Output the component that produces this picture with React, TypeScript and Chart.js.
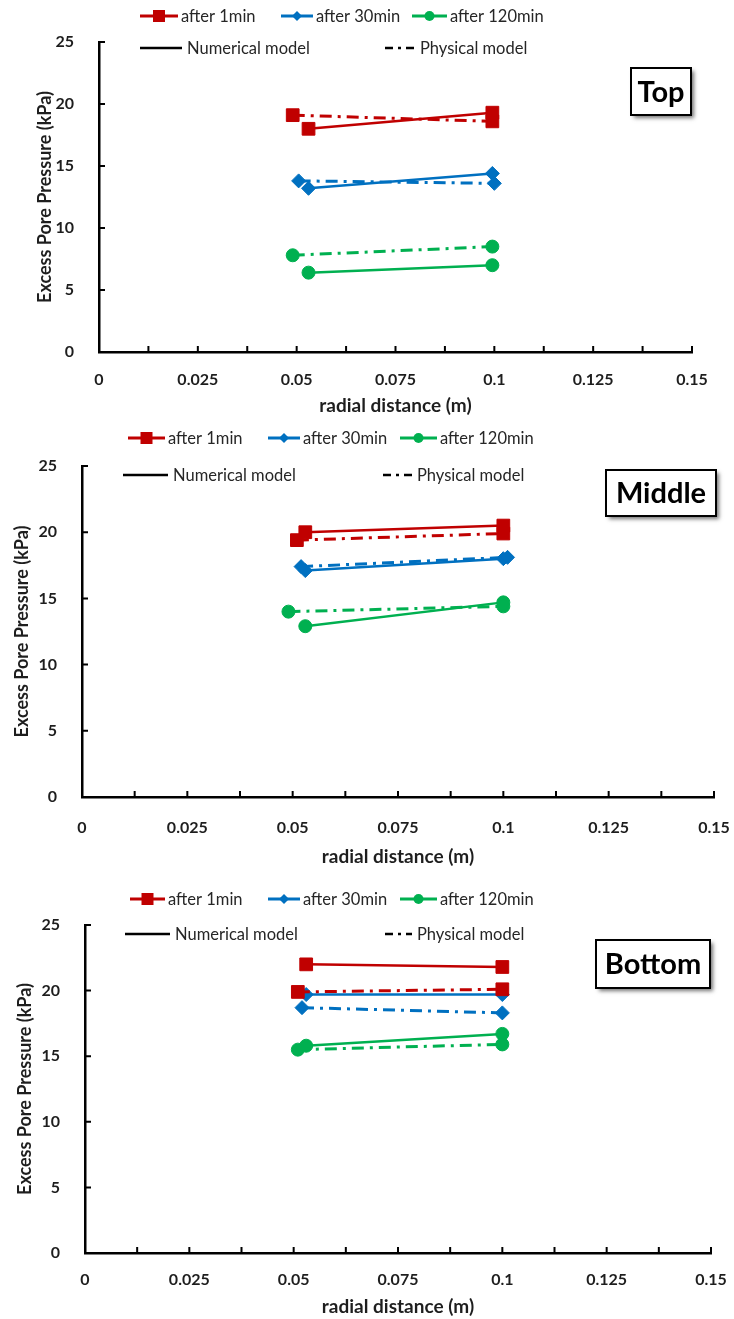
import React, { useEffect, useRef } from "react";
import { Chart, registerables } from "chart.js";

Chart.register(...registerables);

// ---------- labels ----------
const SERIES_NAMES = ["after 1min", "after 30min", "after 120min"];
const MODEL_NAMES = ["Numerical model", "Physical model"];
const PANEL_NAMES = ["Top", "Middle", "Bottom"];
const X_TICK_VALUES = [0, 0.025, 0.05, 0.075, 0.1, 0.125, 0.15];
const X_TICK_LABELS = ["0", "0.025", "0.05", "0.075", "0.1", "0.125", "0.15"];
const X_MINOR_STEP = 0.0125;
const Y_TICK_VALUES = [0, 5, 10, 15, 20, 25];
const Y_TICK_LABELS = ["0", "5", "10", "15", "20", "25"];
const X_TITLE = "radial distance (m)";
const Y_TITLE = "Excess Pore Pressure (kPa)";

// ---------- data: Top ----------
const TOP_NUM_X = [0.053, 0.0995];
const TOP_PHYS_X_1MIN = [0.049, 0.0995];
const TOP_PHYS_X_30MIN = [0.0505, 0.1];
const TOP_PHYS_X_120MIN = [0.049, 0.0995];
const TOP_NUM_1MIN = [18.0, 19.3];
const TOP_NUM_30MIN = [13.2, 14.4];
const TOP_NUM_120MIN = [6.4, 7.0];
const TOP_PHYS_1MIN = [19.1, 18.6];
const TOP_PHYS_30MIN = [13.8, 13.6];
const TOP_PHYS_120MIN = [7.8, 8.5];

// ---------- data: Middle ----------
const MID_NUM_X = [0.053, 0.1];
const MID_PHYS_X_1MIN = [0.051, 0.1];
const MID_PHYS_X_30MIN = [0.052, 0.101];
const MID_PHYS_X_120MIN = [0.049, 0.1];
const MID_NUM_1MIN = [20.0, 20.5];
const MID_NUM_30MIN = [17.1, 18.0];
const MID_NUM_120MIN = [12.9, 14.7];
const MID_PHYS_1MIN = [19.4, 19.9];
const MID_PHYS_30MIN = [17.4, 18.1];
const MID_PHYS_120MIN = [14.0, 14.4];

// ---------- data: Bottom ----------
const BOT_NUM_X = [0.053, 0.1];
const BOT_PHYS_X_1MIN = [0.051, 0.1];
const BOT_PHYS_X_30MIN = [0.052, 0.1];
const BOT_PHYS_X_120MIN = [0.051, 0.1];
const BOT_NUM_1MIN = [22.0, 21.8];
const BOT_NUM_30MIN = [19.7, 19.7];
const BOT_NUM_120MIN = [15.8, 16.7];
const BOT_PHYS_1MIN = [19.9, 20.1];
const BOT_PHYS_30MIN = [18.7, 18.3];
const BOT_PHYS_120MIN = [15.5, 15.9];

// ---------- styles ----------
const SERIES_COLORS = ["#C00000", "#0070C0", "#00B050"];
const SERIES_MARKERS = ["rect", "rectRot", "circle"];
const SERIES_RADII = [9, 7, 6.5];
const DASH_DOT = [12, 6, 3, 6];
const FONT = "Lato";
const TEXT_COLOR = "#1e1e1e";
const TICK_SIZE = 16;
const X_TITLE_SIZE = 19;
const Y_TITLE_SIZE = 18;
const LEGEND_SIZE = 16.5;

const PANELS = [
  {
    name: PANEL_NAMES[0],
    top: 0,
    height: 425,
    plot: { left: 99, right: 692, top: 42, bottom: 352 },
    yTitleX: 45,
    xTitleY: 406,
    xLabelPad: 10,
    legendY: [16, 48],
    row1: [[140, 178], [281, 313], [412, 447]],
    row2: [[140, 182], [385, 415]],
    box: { x: 631, y: 68, w: 60, h: 47 },
    numX: TOP_NUM_X,
    physX: [TOP_PHYS_X_1MIN, TOP_PHYS_X_30MIN, TOP_PHYS_X_120MIN],
    num: [TOP_NUM_1MIN, TOP_NUM_30MIN, TOP_NUM_120MIN],
    phys: [TOP_PHYS_1MIN, TOP_PHYS_30MIN, TOP_PHYS_120MIN],
  },
  {
    name: PANEL_NAMES[1],
    top: 425,
    height: 445,
    plot: { left: 82, right: 714, top: 41, bottom: 372 },
    yTitleX: 22,
    xTitleY: 432,
    xLabelPad: 13,
    legendY: [13, 50],
    row1: [[128, 165], [268, 300], [400, 437]],
    row2: [[123, 168], [383, 412]],
    box: { x: 606, y: 45, w: 110, h: 46 },
    numX: MID_NUM_X,
    physX: [MID_PHYS_X_1MIN, MID_PHYS_X_30MIN, MID_PHYS_X_120MIN],
    num: [MID_NUM_1MIN, MID_NUM_30MIN, MID_NUM_120MIN],
    phys: [MID_PHYS_1MIN, MID_PHYS_30MIN, MID_PHYS_120MIN],
  },
  {
    name: PANEL_NAMES[2],
    top: 870,
    height: 449,
    plot: { left: 85, right: 711, top: 55, bottom: 383 },
    yTitleX: 25,
    xTitleY: 437,
    xLabelPad: 9,
    legendY: [29, 64],
    row1: [[130, 165], [268, 300], [400, 437]],
    row2: [[125, 170], [385, 412]],
    box: { x: 596, y: 70, w: 114, h: 48 },
    numX: BOT_NUM_X,
    physX: [BOT_PHYS_X_1MIN, BOT_PHYS_X_30MIN, BOT_PHYS_X_120MIN],
    num: [BOT_NUM_1MIN, BOT_NUM_30MIN, BOT_NUM_120MIN],
    phys: [BOT_PHYS_1MIN, BOT_PHYS_30MIN, BOT_PHYS_120MIN],
  },
];

function drawMarker(ctx: CanvasRenderingContext2D, style: string, x: number, y: number, r: number) {
  ctx.beginPath();
  if (style === "rect") {
    ctx.rect(x - r, y - r, 2 * r, 2 * r);
  } else if (style === "rectRot") {
    ctx.moveTo(x - r, y);
    ctx.lineTo(x, y - r);
    ctx.lineTo(x + r, y);
    ctx.lineTo(x, y + r);
    ctx.closePath();
  } else {
    ctx.arc(x, y, r, 0, Math.PI * 2);
  }
  ctx.fill();
}

function makePlugin(p: any) {
  return {
    id: "panelDecor",
    afterDraw(chart: any) {
      const ctx: CanvasRenderingContext2D = chart.ctx;
      const xs = chart.scales.x;
      const ys = chart.scales.y;
      ctx.save();
      // inner tick marks
      ctx.strokeStyle = "#000";
      ctx.lineWidth = 2;
      ctx.beginPath();
      const n = Math.round((xs.max - xs.min) / X_MINOR_STEP);
      for (let i = 0; i <= n; i++) {
        const px = xs.getPixelForValue(xs.min + i * X_MINOR_STEP);
        ctx.moveTo(px, ys.bottom);
        ctx.lineTo(px, ys.bottom - 6);
      }
      Y_TICK_VALUES.forEach((v) => {
        const py = ys.getPixelForValue(v);
        ctx.moveTo(xs.left, py);
        ctx.lineTo(xs.left + 6, py);
      });
      ctx.stroke();

      // legend row 1
      ctx.textBaseline = "middle";
      ctx.textAlign = "left";
      ctx.font = `${LEGEND_SIZE}px ${FONT}`;
      const y1 = p.legendY[0];
      p.row1.forEach((seg: number[], s: number) => {
        ctx.strokeStyle = SERIES_COLORS[s];
        ctx.fillStyle = SERIES_COLORS[s];
        ctx.lineWidth = 3;
        ctx.setLineDash([]);
        ctx.beginPath();
        ctx.moveTo(seg[0], y1);
        ctx.lineTo(seg[1], y1);
        ctx.stroke();
        drawMarker(ctx, SERIES_MARKERS[s], (seg[0] + seg[1]) / 2, y1, s === 0 ? 6 : 5);
        ctx.fillStyle = "#262626";
        ctx.fillText(SERIES_NAMES[s], seg[1] + 3, y1 + 1);
      });
      // legend row 2
      const y2 = p.legendY[1];
      p.row2.forEach((seg: number[], m: number) => {
        ctx.strokeStyle = "#000";
        ctx.lineWidth = 2.5;
        ctx.setLineDash(m === 0 ? [] : [8, 5, 3, 5]);
        ctx.beginPath();
        ctx.moveTo(seg[0], y2);
        ctx.lineTo(seg[1], y2);
        ctx.stroke();
        ctx.setLineDash([]);
        ctx.fillStyle = "#262626";
        ctx.fillText(MODEL_NAMES[m], seg[1] + 5, y2 + 1);
      });

      // panel label box
      const b = p.box;
      ctx.save();
      ctx.shadowColor = "rgba(0,0,0,0.55)";
      ctx.shadowBlur = 4;
      ctx.shadowOffsetX = 3;
      ctx.shadowOffsetY = 3;
      ctx.fillStyle = "#fff";
      ctx.fillRect(b.x, b.y, b.w, b.h);
      ctx.restore();
      ctx.strokeStyle = "#000";
      ctx.lineWidth = 2;
      ctx.strokeRect(b.x, b.y, b.w, b.h);
      ctx.fillStyle = "#000";
      ctx.font = `bold 29px ${FONT}`;
      ctx.textAlign = "center";
      ctx.fillText(p.name, b.x + b.w / 2, b.y + b.h / 2 + 1);
      ctx.restore();
    },
  };
}

function buildConfig(p: any): any {
  const datasets: any[] = [];
  for (let s = 0; s < 3; s++) {
    const common = {
      borderColor: SERIES_COLORS[s],
      backgroundColor: SERIES_COLORS[s],
      pointBackgroundColor: SERIES_COLORS[s],
      pointBorderColor: SERIES_COLORS[s],
      pointBorderWidth: 1,
      pointStyle: SERIES_MARKERS[s],
      pointRadius: SERIES_RADII[s],
      showLine: true,
      fill: false,
      tension: 0,
      borderWidth: 2.5,
    };
    datasets.push({
      ...common,
      label: `${SERIES_NAMES[s]} - ${MODEL_NAMES[1]}`,
      data: p.physX[s].map((x: number, i: number) => ({ x, y: p.phys[s][i] })),
      borderDash: DASH_DOT,
      borderWidth: 3,
    });
    datasets.push({
      ...common,
      label: `${SERIES_NAMES[s]} - ${MODEL_NAMES[0]}`,
      data: p.numX.map((x: number, i: number) => ({ x, y: p.num[s][i] })),
    });
  }
  const tickFont = { family: FONT, weight: "bold", size: TICK_SIZE };
  const xTitleFont = { family: FONT, weight: "bold", size: X_TITLE_SIZE };
  const yTitleFont = { family: FONT, weight: "bold", size: Y_TITLE_SIZE };
  return {
    type: "scatter",
    data: { datasets },
    options: {
      animation: false,
      responsive: false,
      devicePixelRatio: 1,
      layout: {
        padding: { left: 0, right: 734 - p.plot.right, top: p.plot.top, bottom: 0 },
      },
      plugins: {
        legend: { display: false },
        tooltip: { enabled: false },
        title: { display: false },
      },
      scales: {
        x: {
          type: "linear",
          position: "bottom",
          min: 0,
          max: 0.15,
          afterBuildTicks: (scale: any) => {
            scale.ticks = X_TICK_VALUES.map((v) => ({ value: v }));
          },
          ticks: {
            autoSkip: false,
            maxRotation: 0,
            padding: p.xLabelPad,
            color: TEXT_COLOR,
            font: tickFont,
            callback: (_v: any, i: number) => X_TICK_LABELS[i],
          },
          grid: { display: false },
          border: { display: true, color: "#000", width: 2.5 },
          title: {
            display: true,
            text: X_TITLE,
            color: TEXT_COLOR,
            font: xTitleFont,
            padding: { top: 0, bottom: p.height - p.xTitleY - X_TITLE_SIZE * 0.6 },
          },
          afterFit: (scale: any) => {
            scale.height = p.height - p.plot.bottom;
            scale.paddingLeft = 0;
            scale.paddingRight = 0;
          },
        },
        y: {
          type: "linear",
          position: "left",
          min: 0,
          max: 25,
          afterBuildTicks: (scale: any) => {
            scale.ticks = Y_TICK_VALUES.map((v) => ({ value: v }));
          },
          ticks: {
            padding: 17,
            color: TEXT_COLOR,
            font: tickFont,
            callback: (_v: any, i: number) => Y_TICK_LABELS[i],
          },
          grid: { display: false },
          border: { display: true, color: "#000", width: 2.5 },
          title: {
            display: true,
            text: Y_TITLE,
            color: TEXT_COLOR,
            font: yTitleFont,
            padding: { top: p.yTitleX - Y_TITLE_SIZE * 0.6, bottom: 0 },
          },
          afterFit: (scale: any) => {
            scale.width = p.plot.left;
            scale.paddingTop = 0;
            scale.paddingBottom = 0;
          },
        },
      },
    },
    plugins: [makePlugin(p)],
  };
}

function Panel({ p }: { p: any }) {
  const ref = useRef<HTMLCanvasElement | null>(null);
  useEffect(() => {
    if (!ref.current) return;
    const chart = new Chart(ref.current, buildConfig(p));
    return () => chart.destroy();
  }, [p]);
  return (
    <canvas
      ref={ref}
      width={734}
      height={p.height}
      style={{ position: "absolute", left: 0, top: p.top, width: 734, height: p.height, display: "block" }}
    />
  );
}

export default function App() {
  return (
    <div style={{ position: "absolute", left: 0, top: 0, width: 734, height: 1319, background: "#fff", overflow: "hidden" }}>
      {PANELS.map((p) => (
        <Panel key={p.name} p={p} />
      ))}
    </div>
  );
}
